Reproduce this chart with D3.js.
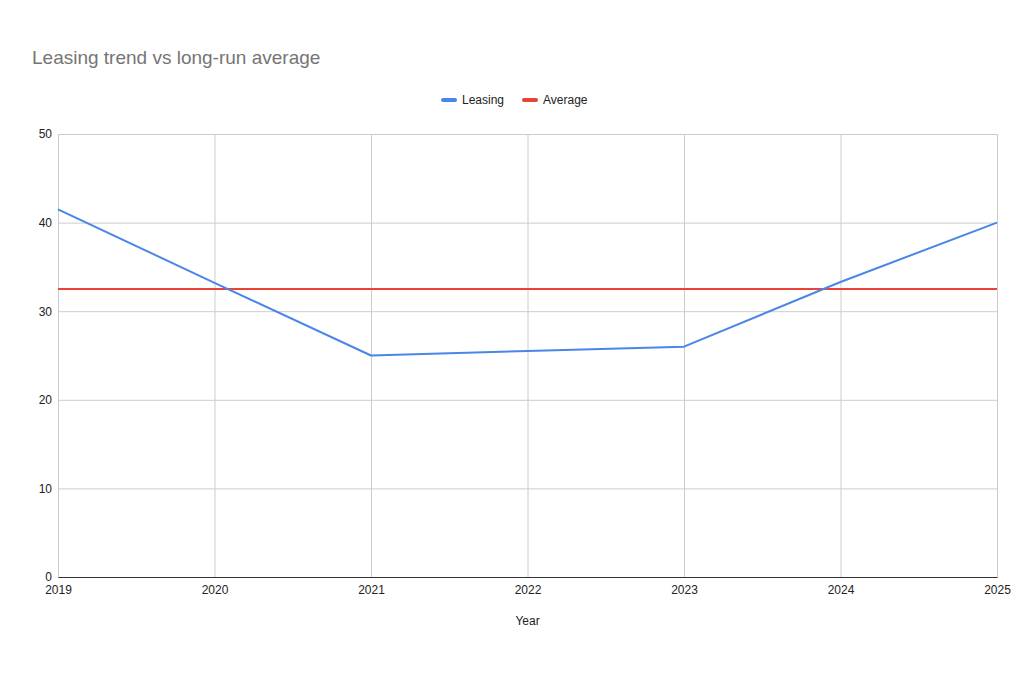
<!DOCTYPE html>
<html>
<head>
<meta charset="utf-8">
<script src="https://cdn.jsdelivr.net/npm/d3@7"></script>
<style>
  body { margin: 0; background: #fff; font-family: Arial, "Liberation Sans", sans-serif; }
</style>
</head>
<body>
<svg id="chart"></svg>
<script>
const years = [2019, 2020, 2021, 2022, 2023, 2024, 2025];
const leasing = [41.5, 33.2, 25, 25.5, 26, 33.3, 40];
const average = [32.5, 32.5, 32.5, 32.5, 32.5, 32.5, 32.5];
const yTicks = [0, 10, 20, 30, 40, 50];

const width = 1024;
const height = 683;
const margin = { top: 134, right: 27, bottom: 106, left: 58 };
const innerWidth = width - margin.left - margin.right;
const innerHeight = height - margin.top - margin.bottom;

const svg = d3.select('#chart').attr('width', width).attr('height', height);

const xScale = d3.scaleLinear().domain(d3.extent(years)).range([0, innerWidth]);
const yScale = d3.scaleLinear().domain([0, 50]).range([innerHeight, 0]);

svg.append('text')
  .attr('x', 32).attr('y', 64)
  .attr('font-size', 19).attr('fill', '#757575')
  .text('Leasing trend vs long-run average');

const g = svg.append('g').attr('transform', `translate(${margin.left}, ${margin.top})`);

// grid
g.append('g')
  .call(d3.axisLeft(yScale).tickValues(yTicks).tickSize(-innerWidth).tickFormat(''))
  .call(s => s.select('.domain').remove())
  .selectAll('line').attr('stroke', '#cccccc');

g.append('g')
  .attr('transform', `translate(0, ${innerHeight})`)
  .call(d3.axisBottom(xScale).tickValues(years).tickSize(-innerHeight).tickFormat(''))
  .call(s => s.select('.domain').remove())
  .selectAll('line').attr('stroke', '#cccccc');

// axes labels
g.append('g')
  .call(d3.axisLeft(yScale).tickValues(yTicks).tickSize(0).tickPadding(6))
  .call(s => s.select('.domain').remove())
  .selectAll('text').attr('font-size', 12).attr('fill', '#222');

g.append('g')
  .attr('transform', `translate(0, ${innerHeight})`)
  .call(d3.axisBottom(xScale).tickValues(years).tickFormat(d3.format('d')).tickSize(0).tickPadding(8))
  .call(s => s.select('.domain').attr('stroke', '#333'))
  .selectAll('text').attr('font-size', 12).attr('fill', '#222');

svg.append('text')
  .attr('x', margin.left + innerWidth / 2).attr('y', 625)
  .attr('text-anchor', 'middle').attr('font-size', 12).attr('fill', '#222')
  .text('Year');

const line = d3.line().x((d, i) => xScale(years[i])).y(d => yScale(d));

g.append('path').datum(average)
  .attr('fill', 'none').attr('stroke', '#ea4335').attr('stroke-width', 2).attr('d', line);
g.append('path').datum(leasing)
  .attr('fill', 'none').attr('stroke', '#4a86e8').attr('stroke-width', 2)
  .attr('stroke-linejoin', 'round').attr('d', line);

// legend
const legend = [
  { name: 'Leasing', color: '#4a86e8', x: 443 },
  { name: 'Average', color: '#ea4335', x: 524 }
];
const lg = svg.append('g').selectAll('g').data(legend).enter().append('g')
  .attr('transform', d => `translate(${d.x}, 100)`);
lg.append('line').attr('x1', 0).attr('x2', 12).attr('stroke', d => d.color)
  .attr('stroke-width', 4).attr('stroke-linecap', 'round');
lg.append('text').attr('x', 19).attr('y', 4).attr('font-size', 12).attr('fill', '#222')
  .text(d => d.name);
</script>
</body>
</html>
